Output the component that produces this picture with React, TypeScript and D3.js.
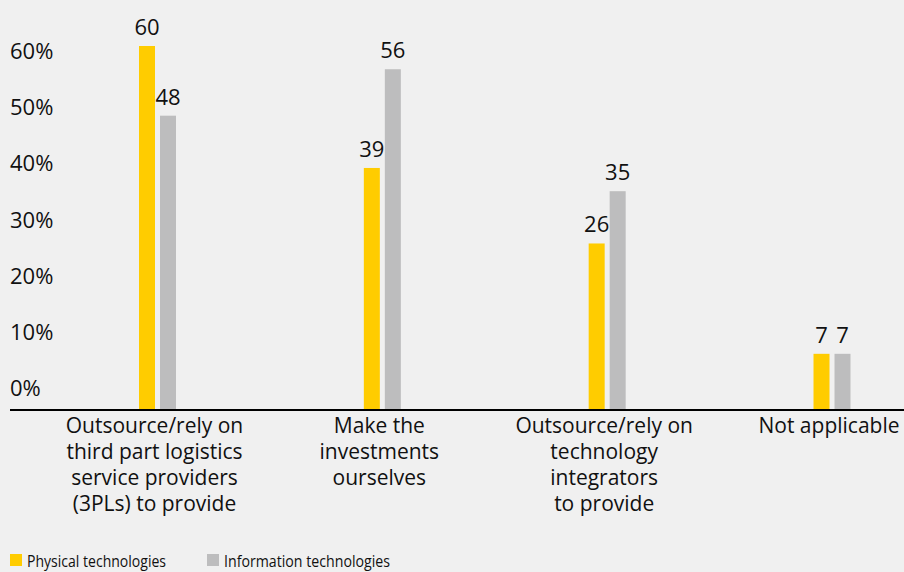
import React from "react";
import * as d3 from "d3";

const categories: string[][] = [
  ["Outsource/rely on", "third part logistics", "service providers", "(3PLs) to provide"],
  ["Make the", "investments", "ourselves"],
  ["Outsource/rely on", "technology", "integrators", "to provide"],
  ["Not applicable"],
];
const physical: number[] = [60, 39, 26, 7];
const information: number[] = [48, 56, 35, 7];
const yTicks: number[] = [0, 10, 20, 30, 40, 50, 60];
const seriesNames: string[] = ["Physical technologies", "Information technologies"];

const W = 904;
const H = 572;
const YELLOW = "#ffcc00";
const GRAY = "#bdbdbe";
const FONT = "'Open Sans', 'Noto Sans', sans-serif";
const TEXT = "#111111";

export default function App() {
  const idx = categories.map((_, i) => i);
  const x = d3.scalePoint<number>().domain(idx).range([157.5, 832]);
  const y = d3.scaleLinear().domain([-2.5, 60]).range([409, 46]);
  const yLabel = d3.scaleLinear().domain([0, 60]).range([396, 59]);
  const barW = 16;
  const gap = 5;
  const series = [
    { name: seriesNames[0], values: physical, color: YELLOW, off: -gap / 2 - barW, legendLen: 139 },
    { name: seriesNames[1], values: information, color: GRAY, off: gap / 2, legendLen: 166 },
  ];
  const base = y(-2.5);

  return (
    <svg
      width={W}
      height={H}
      style={{ position: "absolute", left: 0, top: 0, background: "#f0f0f0" }}
      fontFamily={FONT}
    >
      <rect x={0} y={0} width={W} height={H} fill="#f0f0f0" />
      {yTicks.map((t) => (
        <text key={t} x={10} y={yLabel(t)} fontSize={22} fill={TEXT}>
          {t}%
        </text>
      ))}
      {series.map((s) =>
        s.values.map((v, i) => {
          const bx = (x(i) as number) + s.off;
          return (
            <g key={s.name + i}>
              <rect x={bx} y={y(v)} width={barW} height={base - y(v)} fill={s.color} />
              <text
                x={bx + barW / 2}
                y={y(v) - 11}
                fontSize={22}
                textAnchor="middle"
                fill={TEXT}
              >
                {v}
              </text>
            </g>
          );
        })
      )}
      <line x1={10} x2={W} y1={410} y2={410} stroke="#000" strokeWidth={2} />
      {categories.map((lines, i) => (
        <text
          key={i}
          x={(x(i) as number) - 3}
          y={433}
          fontSize={21}
          textAnchor="middle"
          fill={TEXT}
        >
          {lines.map((l, j) => (
            <tspan key={j} x={(x(i) as number) - 3} dy={j === 0 ? 0 : 26}>
              {l}
            </tspan>
          ))}
        </text>
      ))}
      {series.map((s, i) => {
        const lx = i === 0 ? 10 : 207;
        return (
          <g key={s.name}>
            <rect x={lx} y={554} width={12} height={12} fill={s.color} />
            <text
              x={lx + 17}
              y={566.5}
              fontSize={17}
              fill={TEXT}
              textLength={s.legendLen}
              lengthAdjust="spacingAndGlyphs"
            >
              {s.name}
            </text>
          </g>
        );
      })}
    </svg>
  );
}
